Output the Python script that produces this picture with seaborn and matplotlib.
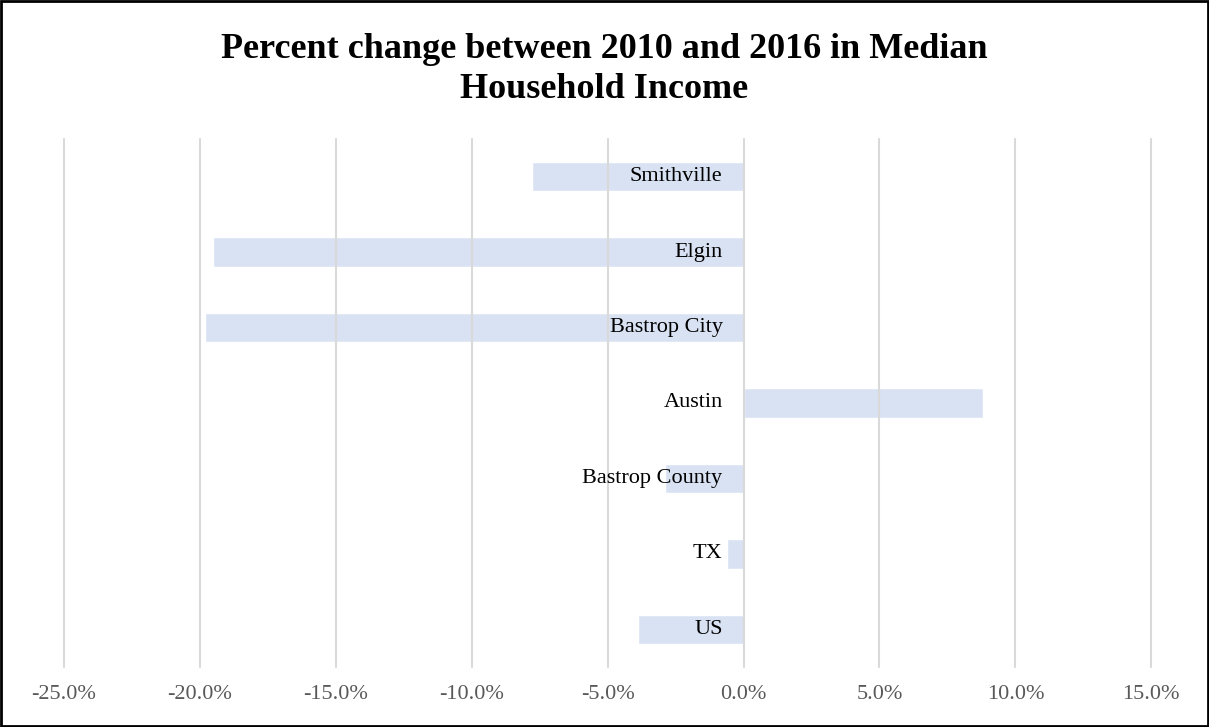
import seaborn as sns
import matplotlib.pyplot as plt
import pandas as pd
from matplotlib.patches import Rectangle
from matplotlib.ticker import FuncFormatter

places = ["Smithville", "Elgin", "Bastrop City", "Austin", "Bastrop County", "TX", "US"]
pct_change = [-7.8, -19.5, -19.8, 8.8, -2.9, -0.6, -3.9]
x_ticks = [-25, -20, -15, -10, -5, 0, 5, 10, 15]

df = pd.DataFrame({"place": places, "pct": pct_change})

sns.set_style("white")
plt.rcParams['font.family'] = ['Liberation Serif', 'DejaVu Serif']
plt.rcParams['axes.unicode_minus'] = False

fig = plt.figure(figsize=(12.09, 7.27), dpi=100)
ax = fig.add_axes([0.0529, 0.0825, 0.8994, 0.7264])

sns.barplot(data=df, x="pct", y="place", order=places, orient="h",
            color="#D9E2F3", saturation=1, width=0.39, ax=ax, zorder=2)

ax.set_xlim(-25, 15)
ax.set_ylim(6.5, -0.5)
ax.set_xticks(x_ticks)
ax.xaxis.set_major_formatter(FuncFormatter(lambda v, p: f"{v:.1f}%"))
ax.tick_params(axis="x", length=0, pad=13, labelsize=16, labelcolor="#595959")
ax.set_yticks([])
ax.set_xlabel("")
ax.set_ylabel("")
for s in ax.spines.values():
    s.set_visible(False)
for t in x_ticks:
    ax.axvline(t, color="#D9D9D9", lw=1.5, zorder=3, clip_on=False)

# category labels sit just left of the zero line
for i, name in enumerate(places):
    ax.annotate(name, xy=(0, i), xytext=(-21, 0), textcoords="offset pixels",
                ha="right", va="center", fontsize=16, color="black", zorder=4)

fig.suptitle("Percent change between 2010 and 2016 in Median\nHousehold Income",
             y=0.955, fontsize=26, fontweight="bold", linespacing=1.3, color="black")

fig.patches.append(Rectangle((0.001, 0.002), 0.998, 0.996, transform=fig.transFigure,
                             fill=False, edgecolor="black", lw=2))

fig.savefig("out.png", dpi=100)
